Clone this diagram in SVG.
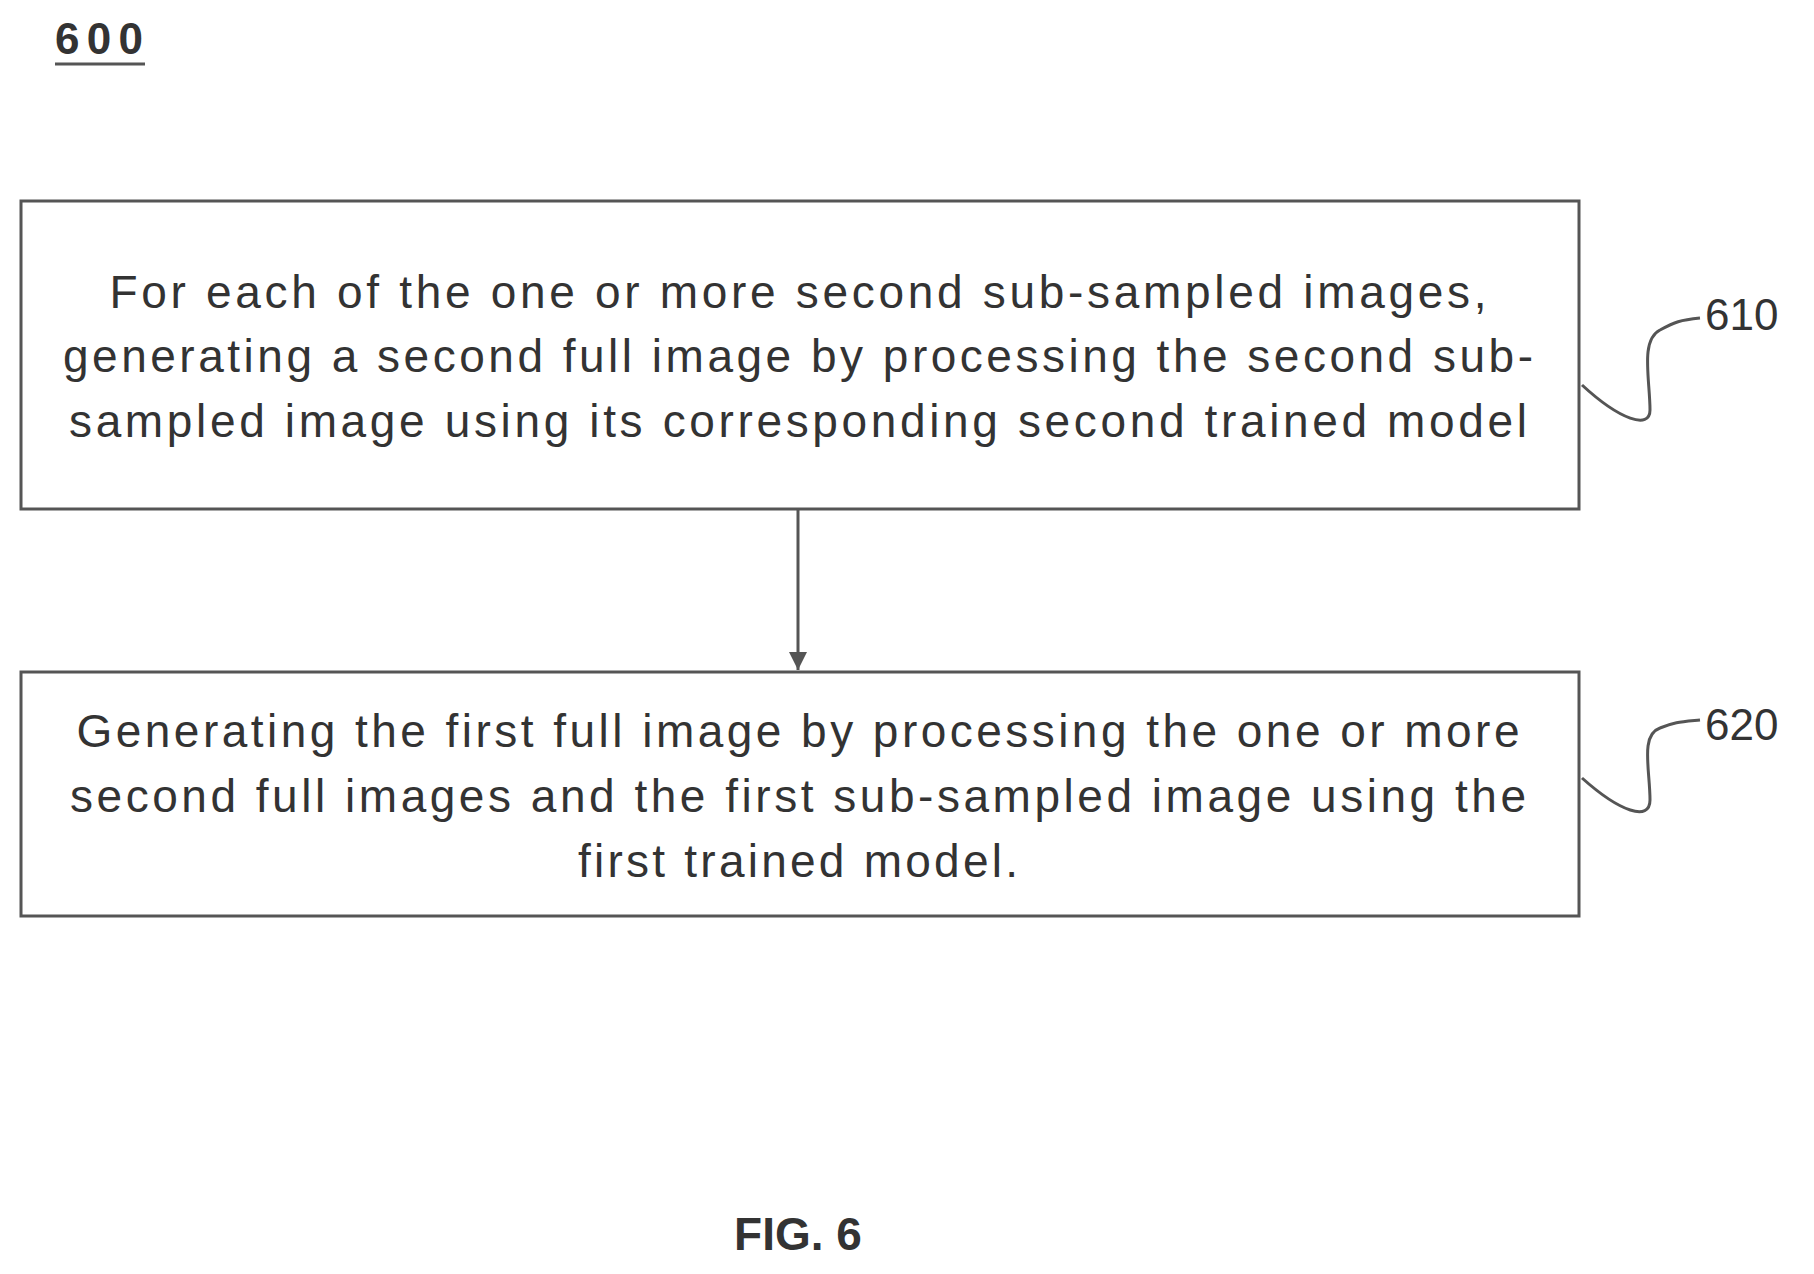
<svg xmlns="http://www.w3.org/2000/svg" width="1814" height="1274" viewBox="0 0 1814 1274">
<defs>
<style>
.box{fill:#fff;stroke:#555;stroke-width:3}
.t{font-family:"Liberation Sans",Arial,sans-serif;font-size:46px;fill:#333;text-anchor:middle}
.lbl{font-family:"Liberation Sans",Arial,sans-serif;font-size:44px;fill:#333}
.ln{fill:none;stroke:#555;stroke-width:3}
</style>
<marker id="ah" markerWidth="20" markerHeight="20" refX="18" refY="9" orient="auto" markerUnits="userSpaceOnUse"><path d="M0,0 L18,9 L0,18 Z" fill="#555"/></marker>
</defs>
<rect width="1814" height="1274" fill="#fff"/>
<text x="55" y="54" class="lbl" font-weight="bold" textLength="88" lengthAdjust="spacing">600</text>
<line x1="55" y1="64" x2="145" y2="64" class="ln"/>
<g id="n610">
<rect x="21" y="201" width="1558" height="308" class="box"/>
<text class="t" x="798" y="308" textLength="1377" lengthAdjust="spacing">For each of the one or more second sub-sampled images,</text>
<text class="t" x="798" y="372" textLength="1470" lengthAdjust="spacing">generating a second full image by processing the second sub-</text>
<text class="t" x="798" y="437" textLength="1458" lengthAdjust="spacing">sampled image using its corresponding second trained model</text>
</g>
<g id="n620">
<rect x="21" y="672" width="1558" height="244" class="box"/>
<text class="t" x="798" y="747" textLength="1443" lengthAdjust="spacing">Generating the first full image by processing the one or more</text>
<text class="t" x="798" y="812" textLength="1456" lengthAdjust="spacing">second full images and the first sub-sampled image using the</text>
<text class="t" x="798" y="877" textLength="440" lengthAdjust="spacing">first trained model.</text>
</g>
<g id="connectors">
<line x1="798" y1="509" x2="798" y2="670" class="ln" marker-end="url(#ah)"/>
<path class="ln" d="M1582,385 C1620,420 1650,430 1650,410 C1650,380 1640,340 1660,330 C1675,322 1680,320 1700,318"/>
<path class="ln" d="M1582,778 C1620,812 1650,822 1650,800 C1650,770 1640,735 1660,728 C1675,722 1680,722 1700,720"/>
</g>
<text x="1705" y="330" class="lbl">610</text>
<text x="1705" y="740" class="lbl">620</text>
<text x="798" y="1250" class="t" font-weight="bold">FIG. 6</text>
</svg>
